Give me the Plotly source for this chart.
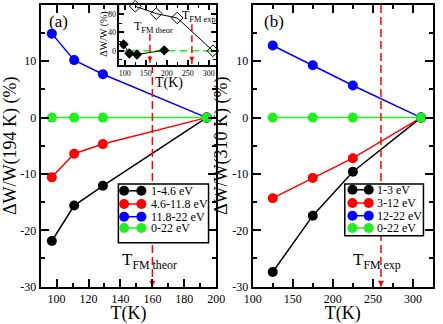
import plotly.graph_objects as go

FONT = "Liberation Serif, Times New Roman, serif"
W, H = 443, 324

# ---------------- data ----------------
temps_a = [97, 111, 129, 194]
a_series = {
    "1-4.6 eV": [-21.9, -15.6, -12.1, 0.0],
    "4.6-11.8 eV": [-10.6, -6.4, -4.7, 0.0],
    "11.8-22 eV": [14.9, 10.2, 7.7, 0.0],
    "0-22 eV": [0.0, 0.0, 0.0, 0.0],
}
temps_b = [125, 175, 225, 310]
b_series = {
    "1-3 eV": [-27.4, -17.4, -9.6, 0.0],
    "3-12 eV": [-14.3, -10.7, -7.2, 0.0],
    "12-22 eV": [12.8, 9.3, 5.7, 0.0],
    "0-22 eV": [0.0, 0.0, 0.0, 0.0],
}
series_colors = ["black", "red", "blue", "#22ee22"]

inset_T_open = [125, 175, 225, 310]
inset_open = [97, 81, 71.5, 0]
inset_T_fill = [97, 111, 129, 194]
inset_fill = [14, -6, -8, 1]

T_theor = 160
T_exp = 260
inset_arrow_top = [37, 58]

# axis ranges / ticks
xa_range = [90, 200]
xa_ticks = [100, 120, 140, 160, 180, 200]
xb_range = [100, 325]
xb_ticks = [100, 150, 200, 250, 300]
y_range = [-30, 20]
y_ticks = [-30, -20, -10, 0, 10, 20]
y_ticklabels = ["-30", "-20", "-10", "0", "10", "20"]
xi_range = [87, 318]
xi_ticks = [100, 150, 200, 250, 300]
yi_range = [-30, 100]
yi_ticks = [0, 40, 80]


def px(x):
    return x / W


def py(y):
    return 1 - y / H


fig = go.Figure()

# ---- main panels ----
for (temps, ser, xr, yr) in [(temps_a, a_series, "x", "y"), (temps_b, b_series, "x2", "y2")]:
    for (name, vals), col in zip(ser.items(), series_colors):
        fig.add_trace(go.Scatter(
            x=temps, y=vals, mode="lines+markers", name=name,
            line=dict(color=col, width=1.5),
            marker=dict(color=col, size=10, line=dict(width=0)),
            xaxis=xr, yaxis=yr, showlegend=False, cliponaxis=False))

# red dashed lines in main panels
for T, xr, yr in [(T_theor, "x", "y"), (T_exp, "x2", "y2")]:
    fig.add_trace(go.Scatter(
        x=[T, T], y=[y_range[1], y_range[0]], mode="lines",
        line=dict(color="red", width=1.5, dash="8px,4px"),
        xaxis=xr, yaxis=yr, showlegend=False))
    fig.add_trace(go.Scatter(
        x=[T], y=[y_range[0]], mode="markers",
        marker=dict(symbol="arrow-down", size=6, color="red", line=dict(width=0)),
        xaxis=xr, yaxis=yr, showlegend=False, cliponaxis=False))

# ---- inset ----
# white background of the inset (hides main-panel lines behind it)
fig.add_trace(go.Scatter(
    x=[xi_range[0], xi_range[1], xi_range[1], xi_range[0], xi_range[0]],
    y=[yi_range[0], yi_range[0], yi_range[1], yi_range[1], yi_range[0]],
    mode="lines", fill="toself", fillcolor="white", line=dict(width=0, color="white"),
    xaxis="x3", yaxis="y3", showlegend=False, hoverinfo="skip"))
fig.add_trace(go.Scatter(
    x=xi_range, y=[0, 0], mode="lines",
    line=dict(color="#22ee22", width=1.5, dash="8px,4px"),
    xaxis="x3", yaxis="y3", showlegend=False))
for T, top in zip([T_theor, T_exp], inset_arrow_top):
    fig.add_trace(go.Scatter(
        x=[T, T], y=[top, yi_range[0]], mode="lines",
        line=dict(color="red", width=1.5, dash="7px,4px"),
        xaxis="x3", yaxis="y3", showlegend=False))
    fig.add_trace(go.Scatter(
        x=[T], y=[yi_range[0] + 6], mode="markers",
        marker=dict(symbol="arrow-down", size=5, color="red", line=dict(width=0)),
        xaxis="x3", yaxis="y3", showlegend=False))
fig.add_trace(go.Scatter(
    x=inset_T_open, y=inset_open, mode="lines+markers",
    line=dict(color="black", width=1),
    marker=dict(symbol="diamond-open", size=9, color="black", line=dict(width=1)),
    xaxis="x3", yaxis="y3", showlegend=False, cliponaxis=False))
fig.add_trace(go.Scatter(
    x=inset_T_fill, y=inset_fill, mode="lines+markers",
    line=dict(color="black", width=1),
    marker=dict(symbol="diamond", size=8, color="black"),
    xaxis="x3", yaxis="y3", showlegend=False))

shapes = []
annotations = []


def add_legend(box, rows, mx, tx, labels):
    shapes.append(dict(type="rect", xref="paper", yref="paper",
                       x0=px(box[0]), x1=px(box[1]), y0=py(box[3]), y1=py(box[2]),
                       line=dict(color="black", width=1.5), fillcolor="white", layer="above"))
    for r, lab, col in zip(rows, labels, series_colors):
        shapes.append(dict(type="line", xref="paper", yref="paper",
                           x0=px(mx[0]), x1=px(mx[1]), y0=py(r), y1=py(r),
                           line=dict(color=col, width=1.5), layer="above"))
        for m in mx:
            shapes.append(dict(type="circle", xref="paper", yref="paper",
                               xsizemode="pixel", ysizemode="pixel",
                               xanchor=px(m), yanchor=py(r), x0=-5, x1=5, y0=-5, y1=5,
                               fillcolor=col, line=dict(width=0), layer="above"))
        annotations.append(dict(text=lab, xref="paper", yref="paper", x=px(tx), y=py(r),
                                xanchor="left", yanchor="middle", showarrow=False,
                                font=dict(family=FONT, size=12, color="black")))


add_legend((114, 208, 188, 248), [195, 208.5, 221.5, 233], (120, 138), 146, list(a_series.keys()))
add_legend((350, 432, 188, 241), [194, 207.5, 220.5, 233], (358, 375), 381, list(b_series.keys()))

# panel labels
annotations.append(dict(text="(a)", xref="paper", yref="paper", x=px(40), y=py(22),
                        xanchor="left", yanchor="middle", showarrow=False,
                        font=dict(family=FONT, size=17, color="black")))
annotations.append(dict(text="(b)", xref="paper", yref="paper", x=px(264), y=py(22),
                        xanchor="left", yanchor="middle", showarrow=False,
                        font=dict(family=FONT, size=17, color="black")))
# T_FM labels
annotations.append(dict(text="T<sub>FM theor</sub>", xref="x", yref="y", x=T_theor, y=-25.5,
                        xanchor="center", yanchor="middle", xshift=-3, showarrow=False,
                        font=dict(family=FONT, size=17, color="black")))
annotations.append(dict(text="T<sub>FM exp</sub>", xref="x2", yref="y2", x=T_exp, y=-25.5,
                        xanchor="center", yanchor="middle", xshift=-4, showarrow=False,
                        font=dict(family=FONT, size=17, color="black")))
annotations.append(dict(text="T<sub>FM theor</sub>", xref="x3", yref="y3", x=T_theor, y=52,
                        xanchor="center", yanchor="middle", xshift=4, showarrow=False,
                        font=dict(family=FONT, size=12, color="black")))
annotations.append(dict(text="T<sub>FM exp.</sub>", xref="x3", yref="y3", x=T_exp, y=75,
                        xanchor="center", yanchor="middle", xshift=8, showarrow=False,
                        font=dict(family=FONT, size=12, color="black")))
# inset axis titles
annotations.append(dict(text="T(K)", xref="paper", yref="paper", x=px(167), y=py(85),
                        xanchor="center", yanchor="middle", showarrow=False,
                        font=dict(family=FONT, size=14, color="black")))
annotations.append(dict(text="ΔW/W (%)", xref="paper", yref="paper", x=px(99), y=py(34.5),
                        xanchor="center", yanchor="middle", textangle=-90, showarrow=False,
                        font=dict(family=FONT, size=10, color="black")))


def axis_style(**kw):
    d = dict(showline=True, linecolor="black", linewidth=2, mirror="allticks",
             ticks="inside", ticklen=8, tickwidth=1.5, tickcolor="black",
             showgrid=False, zeroline=False,
             tickfont=dict(family=FONT, size=12, color="black"))
    d.update(kw)
    return d


title_font = dict(family=FONT, size=18, color="black")

fig.update_layout(
    width=W, height=H,
    margin=dict(l=0, r=0, t=0, b=0),
    paper_bgcolor="white", plot_bgcolor="white",
    showlegend=False,
    xaxis=axis_style(domain=[px(33), px(216)], range=xa_range, tickvals=xa_ticks,
                     minor=dict(ticks="inside", ticklen=4, tickwidth=1.5, tickcolor="black", dtick=10, tick0=90),
                     anchor="y", title=dict(text="T(K)", font=title_font, standoff=0)),
    yaxis=axis_style(domain=[py(293), py(5)], range=y_range, tickvals=y_ticks, ticktext=y_ticklabels,
                     minor=dict(ticks="inside", ticklen=4, tickwidth=1.5, tickcolor="black", dtick=5, tick0=-30),
                     anchor="x", title=dict(text="ΔW/W(194 K) (%)", font=title_font, standoff=0)),
    xaxis2=axis_style(domain=[px(254), px(442)], range=xb_range, tickvals=xb_ticks,
                      minor=dict(ticks="inside", ticklen=4, tickwidth=1.5, tickcolor="black", dtick=25, tick0=100),
                      anchor="y2", title=dict(text="T(K)", font=title_font, standoff=0)),
    yaxis2=axis_style(domain=[py(293), py(5)], range=y_range, tickvals=y_ticks, ticktext=y_ticklabels,
                      minor=dict(ticks="inside", ticklen=4, tickwidth=1.5, tickcolor="black", dtick=5, tick0=-30),
                      anchor="x2", title=dict(text="ΔW/W(310 K) (%)", font=title_font, standoff=0)),
    xaxis3=axis_style(domain=[px(115), px(216)], range=xi_range, tickvals=xi_ticks,
                      ticklen=5, linewidth=1.5, tickfont=dict(family=FONT, size=8, color="black"),
                      minor=dict(ticks="inside", ticklen=3, tickwidth=1, tickcolor="black", dtick=25, tick0=100),
                      anchor="y3"),
    yaxis3=axis_style(domain=[py(66), py(5)], range=yi_range, tickvals=yi_ticks,
                      ticklen=5, linewidth=1.5, tickfont=dict(family=FONT, size=8, color="black"),
                      minor=dict(ticks="inside", ticklen=3, tickwidth=1, tickcolor="black", dtick=20, tick0=-20),
                      anchor="x3"),
    shapes=shapes,
    annotations=annotations,
)

fig.write_html("out.html", config={"displayModeBar": False},
               post_script="document.body.style.margin='0px';document.body.style.overflow='hidden';")
